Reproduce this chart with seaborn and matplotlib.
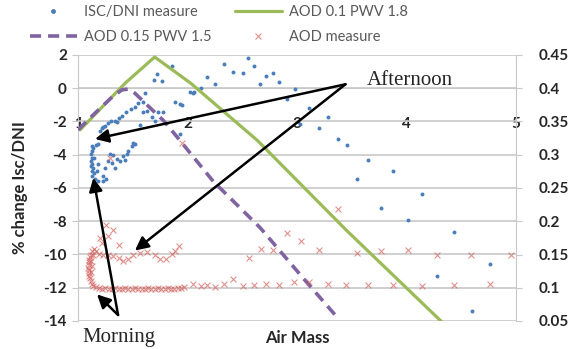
import numpy as np
import pandas as pd
import matplotlib
matplotlib.use("Agg")
import matplotlib.pyplot as plt
from matplotlib.lines import Line2D
from matplotlib.ticker import FuncFormatter
import seaborn as sns

# --------------------
# Data
# --------------------
# measured Isc/DNI change (% , left axis) vs air mass
isc_x = [1.13, 1.18, 1.16, 1.13, 1.12, 1.13, 1.12, 1.13, 1.14, 1.13, 1.13, 1.155,
         1.18, 1.23, 1.26, 1.23, 1.17, 1.18, 1.15, 1.14, 1.12, 1.15,
         1.25, 1.27, 1.31, 1.34, 1.36, 1.38, 1.41, 1.43, 1.45, 1.46, 1.49, 1.52,
         1.29, 1.32,
         1.20, 1.22, 1.23, 1.25, 1.27, 1.30, 1.34, 1.36, 1.37, 1.40, 1.44, 1.48,
         1.52, 1.55,
         1.59, 1.61, 1.69, 1.72, 1.77, 1.86, 1.89, 1.93, 2.02, 2.06, 1.59, 1.63,
         1.68, 1.73, 1.78, 1.70, 1.57, 1.95, 1.93, 1.50,
         2.05, 2.12, 2.18, 2.25, 2.33, 2.42, 2.51, 2.555, 2.61, 2.66, 2.72, 2.78,
         2.84, 2.98, 2.91, 3.11, 3.28, 3.03, 3.20, 3.37, 3.46, 3.65, 3.88, 3.55,
         4.14, 3.77, 4.01, 4.43, 4.76, 4.28, 4.60]
isc_y = [-3.45, -3.33, -3.40, -3.76, -3.94, -4.18, -4.36, -4.55, -4.79, -4.97, -5.27, -5.45,
         -5.58, -5.58, -5.45, -5.27, -4.97, -4.55, -4.20, -3.60, -4.70, -5.10,
         -4.79, -4.36, -4.48, -4.79, -4.24, -4.36, -4.06, -4.30, -3.94, -3.76, -3.45, -3.33,
         -3.94, -4.00,
         -2.60, -2.42, -2.36, -2.30, -2.10, -2.00, -1.94, -2.06, -1.80, -1.64, -1.45, -1.27,
         -1.10, -0.90,
         -0.85, -0.30, 0.48, 0.85, 0.42, 1.33, -0.80, -0.97, -0.24, -0.24, -1.45, -1.39,
         -1.73, -1.45, -1.45, -1.94, -2.24, -1.03, -2.73, -3.27,
         -0.30, 0.00, 0.67, 0.24, 1.45, 0.97, 0.91, 1.82, 1.33, 0.24, 0.73, 0.91,
         0.36, -0.06, -0.67, -1.21, -1.70, -2.18, -2.42, -3.03, -3.39, -4.30, -4.97, -5.45,
         -6.36, -7.21, -7.94, -8.67, -10.55, -11.27, -13.39]

# measured AOD (right axis) vs air mass
aod_x = [1.15, 1.13, 1.12, 1.11, 1.105, 1.10, 1.10, 1.095, 1.10, 1.10, 1.105, 1.11,
         1.12, 1.13, 1.14, 1.16, 1.12, 1.13, 1.12, 1.14, 1.16,
         1.20, 1.26, 1.32, 1.27, 1.37, 1.22,
         1.29, 1.95,
         1.19, 1.23, 1.27, 1.32, 1.37, 1.41, 1.46, 1.50, 1.57, 1.63, 1.70, 1.75,
         1.80, 1.86, 1.89, 1.92,
         1.19, 1.22, 1.25, 1.28, 1.31, 1.34, 1.37, 1.40, 1.43, 1.46, 1.49, 1.52,
         1.55, 1.58, 1.61, 1.64, 1.67, 1.70, 1.73, 1.76, 1.79, 1.82, 1.85, 1.88,
         1.91, 1.94, 1.97,
         2.05, 2.12, 2.18, 2.25, 2.33, 2.42, 2.51, 2.61, 2.72, 2.84, 2.97, 3.11,
         3.28, 3.45, 3.65, 3.88, 4.14, 4.43, 4.76,
         2.56, 2.67, 2.78, 2.91, 3.04, 3.20, 3.37, 3.55, 3.77, 4.01, 4.28, 4.59, 4.95]
aod_y = [0.158, 0.155, 0.150, 0.146, 0.142, 0.138, 0.134, 0.130, 0.126, 0.122, 0.118, 0.114,
         0.110, 0.106, 0.103, 0.101, 0.140, 0.132, 0.124, 0.150, 0.155,
         0.175, 0.195, 0.1875, 0.178, 0.165, 0.168,
         0.295, 0.318,
         0.151, 0.150, 0.150, 0.147, 0.145, 0.140, 0.143, 0.149, 0.153, 0.1545, 0.149, 0.143,
         0.143, 0.151, 0.156, 0.1625,
         0.099, 0.098, 0.099, 0.0985, 0.098, 0.099, 0.0985, 0.098, 0.099, 0.0985, 0.098, 0.099,
         0.0985, 0.098, 0.0985, 0.099, 0.098, 0.0985, 0.099, 0.098, 0.0985, 0.099, 0.098, 0.0985,
         0.099, 0.100, 0.101,
         0.106, 0.103, 0.1045, 0.1015, 0.106, 0.1125, 0.103, 0.1045, 0.106, 0.1045, 0.109, 0.109,
         0.106, 0.1045, 0.1045, 0.1045, 0.103, 0.1045, 0.106,
         0.144, 0.159, 0.1575, 0.183, 0.170, 0.1575, 0.218, 0.153, 0.156, 0.1575, 0.1485, 0.1485, 0.1485]

# modelled curves (% change, left axis)
m1_x = [1.02, 1.43, 1.70, 2.03, 2.64, 2.85, 3.46, 4.33]
m1_y = [-2.5, 0.3, 1.88, 0.3, -3.15, -4.55, -8.6, -14.1]
m2_x = [1.0, 1.155, 1.30, 1.40, 1.46, 1.52, 1.63, 1.78, 1.91, 2.235, 2.665, 3.06, 3.37]
m2_y = [-2.5, -1.5, -0.6, -0.1, -0.05, -0.3, -1.0, -1.94, -2.97, -5.6, -8.4, -11.45, -13.8]

left_ticks = list(range(-14, 3, 2))
right_ticks = [0.05, 0.1, 0.15, 0.2, 0.25, 0.3, 0.35, 0.4, 0.45]
x_ticks = [1, 2, 3, 4, 5]

BLUE = "#4A7EBB"
RED = "#D2625E"
GREEN = "#9BBB59"
PURPLE = "#8064A2"
GRID = "#C8C8C8"

sns.set_style("white")
plt.rcParams["font.family"] = ["Lato", "DejaVu Sans"]
plt.rcParams["axes.unicode_minus"] = False
plt.rcParams["lines.scale_dashes"] = False

fig = plt.figure(figsize=(5.73, 3.49), dpi=100)
ax = fig.add_axes([78 / 573, 28 / 349, 438 / 573, 266 / 349])
ax2 = ax.twinx()

sns.scatterplot(x=isc_x, y=isc_y, ax=ax, color=BLUE, s=8, linewidth=0, zorder=3)
sns.lineplot(x=m1_x, y=m1_y, ax=ax, sort=False, estimator=None, color=GREEN, lw=2.3, zorder=4)
sns.lineplot(x=m2_x, y=m2_y, ax=ax, sort=False, estimator=None, color=PURPLE, lw=2.6, zorder=4)
ax.lines[-1].set_dashes([8, 5])
sns.scatterplot(x=aod_x, y=aod_y, ax=ax2, color=RED, marker="x", s=18, linewidth=0.8,
                alpha=0.7, zorder=2)

# left axis
ax.set_xlim(1, 5)
ax.set_ylim(-14, 2)
ax.set_yticks(left_ticks)
ax.set_xticks(x_ticks)
ax.yaxis.grid(True, color=GRID, lw=1.2)
ax.xaxis.grid(False)
ax.set_axisbelow(True)
for s in ["top", "right"]:
    ax.spines[s].set_visible(False)
ax.spines["left"].set_color(GRID)
ax.spines["bottom"].set_position(("data", 0))
ax.spines["bottom"].set_color(GRID)
ax.tick_params(axis="y", length=4, color=GRID, pad=4, labelsize=11)
ax.tick_params(axis="x", length=4, color=GRID, pad=17, labelsize=11)
for lbl in ax.get_yticklabels() + ax.get_xticklabels():
    lbl.set_fontweight("bold")

ax.set_ylabel("% change Isc/DNI", fontsize=12, fontweight="bold")
ax.yaxis.set_label_coords(-0.114, 0.5)
ax.set_xlabel("Air Mass", fontsize=12, fontweight="bold")
ax.xaxis.set_label_coords(0.5, -0.035)

# right axis
ax2.set_ylim(0.05, 0.45)
ax2.set_yticks(right_ticks)
ax2.yaxis.set_major_formatter(FuncFormatter(lambda v, p: f"{v:g}"))
for s in ["top", "left", "bottom"]:
    ax2.spines[s].set_visible(False)
ax2.spines["right"].set_color(GRID)
ax2.tick_params(axis="y", length=4, color=GRID, pad=12, labelsize=11)
for lbl in ax2.get_yticklabels():
    lbl.set_fontweight("bold")

# legend
handles = [
    Line2D([], [], ls="none", marker="o", ms=2.5, color=BLUE, label="ISC/DNI measure"),
    Line2D([], [], color=PURPLE, lw=2.6, dashes=[8, 5], label="AOD 0.15 PWV 1.5"),
    Line2D([], [], color=GREEN, lw=2.3, label="AOD 0.1 PWV 1.8"),
    Line2D([], [], ls="none", marker="x", ms=4, mew=0.8, color=RED, alpha=0.7, label="AOD measure"),
]
fig.legend(handles=handles, ncol=2, loc="upper left", bbox_to_anchor=(30 / 573, 1 - 5 / 349),
           frameon=False, fontsize=10.5, labelcolor="#595959", handlelength=3.2,
           handletextpad=0.5, columnspacing=1.6, labelspacing=0.75, borderpad=0,
           borderaxespad=0)

# annotations
serif = ["Liberation Serif", "DejaVu Serif"]
arrow = dict(arrowstyle="-|>", color="black", lw=1.8, mutation_scale=20, shrinkA=0, shrinkB=0)
aft_origin = (3.443, 0.24)
aft_tips = [(1.156, -3.05), (1.52, -9.76)]
mor_origin = (1.366, -13.64)
mor_tips = [(1.14, -5.39), (1.174, -12.4)]
for tip in aft_tips:
    ax2.annotate("", xy=tip, xytext=aft_origin, xycoords=ax.transData,
                 textcoords=ax.transData, arrowprops=arrow, zorder=6)
for tip in mor_tips:
    ax2.annotate("", xy=tip, xytext=mor_origin, xycoords=ax.transData,
                 textcoords=ax.transData, arrowprops=arrow, zorder=6)
ax.text(3.635, 0.48, "Afternoon", ha="left", va="center", fontsize=15, family=serif, zorder=6)
ax.text(1.037, -14.97, "Morning", ha="left", va="center", fontsize=15, family=serif,
        clip_on=False, zorder=6)

fig.savefig("out.png", dpi=100)
